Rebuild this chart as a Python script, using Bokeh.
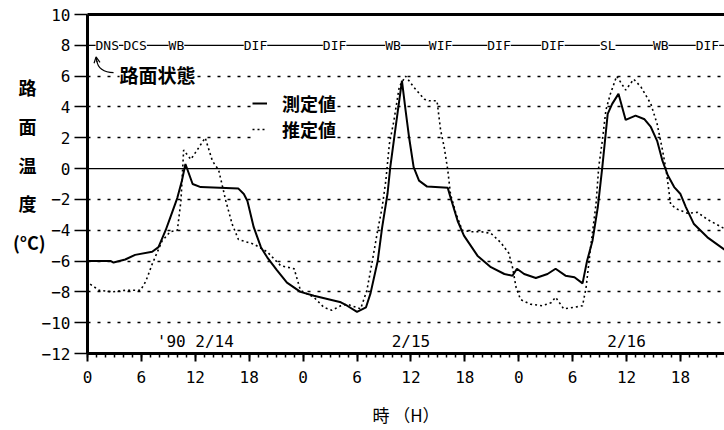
from bokeh.plotting import figure
from bokeh.models import (ColumnDataSource, FixedTicker, Span, LabelSet, Label,
                          LinearAxis, Legend, LegendItem, Arrow, OpenHead)
from bokeh.core.properties import value
from bokeh.embed import file_html
from bokeh.resources import INLINE

# ---- data (hours from 0:00 on 2/14, road-surface temperature in deg C) ----
hours_meas = [0, 2.6, 2.9, 4.2, 5.3, 7.2, 7.9, 8.7, 9.2, 10.0, 10.5, 10.9, 11.7, 12.6,
              16.8, 17.4, 17.8, 18.5, 19.3, 20.0, 21.1, 22.2, 23.7, 25.2, 26.7, 28.2,
              28.9, 30.0, 31.0, 31.5, 32.3, 32.8, 33.4, 33.7, 34.3, 34.8, 35.0, 35.4,
              35.8, 36.3, 36.9, 37.8, 40.1, 40.4, 41.2, 41.9, 43.4, 44.9, 46.4, 47.3,
              47.8, 48.6, 49.9, 51.2, 52.1, 53.2, 54.2, 55.1, 55.6, 56.2, 56.8, 57.3,
              57.9, 58.4, 59.1, 59.9, 61.0, 62.0, 62.7, 63.4, 64.0, 64.6, 65.3, 66.0,
              66.6, 67.5, 69.0, 70.9]
temp_meas = [-6.0, -6.0, -6.1, -5.9, -5.6, -5.4, -5.1, -4.0, -3.2, -1.9, -0.8, 0.3, -1.0, -1.2,
             -1.3, -1.65, -2.1, -3.8, -5.1, -5.76, -6.6, -7.4, -8.0, -8.25, -8.46, -8.68,
             -8.9, -9.3, -9.0, -8.1, -6.0, -3.8, -1.6, 0.1, 2.7, 4.85, 5.7, 3.8,
             2.0, 0.1, -0.78, -1.17, -1.25, -1.86, -3.4, -4.35, -5.65, -6.4, -6.84, -6.95,
             -6.5, -6.84, -7.1, -6.84, -6.5, -6.95, -7.05, -7.45, -6.0, -4.7, -2.5, 0.1,
             3.55, 4.2, 4.85, 3.16, 3.44, 3.2, 2.7, 1.8, 0.5, -0.45, -1.2, -1.65,
             -2.5, -3.6, -4.46, -5.26]

hours_est = [0.3, 1.3, 2.75, 4.2, 5.9, 6.5, 7.2, 8.3, 9.2, 10.0, 10.4, 10.7, 11.5, 12.2,
             13.1, 13.9, 14.6, 15.4, 16.1, 16.8, 18.5, 20.0, 21.5, 23.0, 23.7, 25.2,
             26.3, 27.2, 28.2, 28.9, 30.4, 31.1, 31.7, 32.3, 32.8, 33.2, 33.6, 34.1,
             34.7, 35.4, 36.3, 37.5, 38.0, 38.9, 39.3, 39.7, 40.1, 40.4, 41.0, 41.7,
             42.7, 43.8, 44.9, 46.0, 46.9, 47.3, 47.7, 48.2, 49.3, 50.6, 51.6, 52.1,
             53.0, 54.2, 55.1, 55.5, 56.0, 56.6, 56.9, 57.3, 57.7, 58.2, 58.9, 59.9,
             60.8, 61.6, 62.7, 63.4, 64.0, 64.4, 64.7, 64.9, 65.5, 66.8, 67.9, 69.0, 70.9]
temp_est = [-7.5, -7.9, -8.0, -7.9, -7.9, -7.3, -6.2, -4.7, -4.1, -4.0, -2.1, 1.2, 0.6, 1.2,
            2.0, 0.5, -0.1, -2.1, -3.6, -4.6, -4.9, -5.4, -6.3, -6.5, -7.9, -8.35,
            -9.0, -9.2, -8.9, -8.8, -9.1, -7.9, -6.0, -4.0, -2.5, -0.8, 1.6, 3.1,
            5.3, 6.0, 5.3, 4.5, 4.4, 4.4, 2.5, 1.4, -0.1, -1.65, -2.9, -4.0,
            -4.1, -4.1, -4.2, -4.8, -5.5, -6.4, -7.7, -8.5, -8.8, -8.9, -8.7, -8.35,
            -9.1, -9.0, -8.9, -7.7, -5.1, -2.3, 0.1, 1.8, 3.8, 4.85, 6.0, 5.1,
            5.8, 5.3, 4.2, 2.9, 1.2, -0.1, -1.4, -2.3, -2.6, -2.9, -2.84, -3.3, -3.9]

state_hours = [2.2, 5.3, 9.9, 18.7, 27.5, 34.0, 39.3, 45.8, 51.8, 57.9, 63.8, 69.0]
state_names = ["DNS", "DCS", "WB", "DIF", "DIF", "WB", "WIF", "DIF", "DIF", "SL", "WB", "DIF"]
state_level = 8

x_ticks = [0, 6, 12, 18, 24, 30, 36, 42, 48, 54, 60, 66]
x_tick_labels = ["0", "6", "12", "18", "0", "6", "12", "18", "0", "6", "12", "18"]
y_ticks = [-12, -10, -8, -6, -4, -2, 0, 2, 4, 6, 8, 10]
grid_levels = [-10, -8, -6, -4, -2, 2, 4, 6]

date_hours = [12, 36, 60]
date_labels = ["'90 2/14", "2/15", "2/16"]

y_title = "路\u2002\n面\u2002\n温\u2002\n度\u2002\n(°C)\n\u3000"
x_title = "時 （H）"

X_END = 70.9
MONO = "DejaVu Sans Mono"
CJK = "Noto Sans CJK JP"

p = figure(width=724, height=430, x_range=(0, X_END), y_range=(-12, 10),
           output_backend="svg", toolbar_location=None,
           min_border_left=87, min_border_right=0, min_border_top=14, min_border_bottom=77,
           background_fill_color="white", border_fill_color="white",
           outline_line_color=None)

# axes
xa = p.xaxis[0]
xa.ticker = FixedTicker(ticks=x_ticks, minor_ticks=list(range(0, 71)))
xa.major_label_overrides = {t: l for t, l in zip(x_ticks, x_tick_labels)}
xa.axis_line_width = 3
xa.axis_line_color = "black"
xa.major_tick_out = 8
xa.major_tick_in = 0
xa.major_tick_line_width = 2
xa.major_tick_line_color = "black"
xa.minor_tick_out = 4
xa.minor_tick_in = 0
xa.minor_tick_line_width = 1.5
xa.minor_tick_line_color = "black"
xa.major_label_standoff = 9
xa.major_label_text_font = MONO
xa.major_label_text_font_size = "16px"
xa.major_label_text_color = "black"
xa.axis_label = x_title
xa.axis_label_standoff = 16
xa.axis_label_text_font = CJK
xa.axis_label_text_font_size = "17px"
xa.axis_label_text_font_style = "normal"
xa.axis_label_text_color = "black"

ya = p.yaxis[0]
ya.ticker = FixedTicker(ticks=y_ticks)
ya.axis_line_width = 3
ya.axis_line_color = "black"
ya.major_tick_out = 13
ya.major_tick_in = 0
ya.major_tick_line_width = 1.5
ya.major_tick_line_color = "black"
ya.minor_tick_out = 0
ya.minor_tick_in = 0
ya.major_label_standoff = 4
ya.major_label_text_font = MONO
ya.major_label_text_font_size = "16px"
ya.major_label_text_color = "black"
ya.axis_label = y_title
ya.axis_label_orientation = "horizontal"
ya.axis_label_standoff = -7
ya.axis_label_text_font = CJK
ya.axis_label_text_font_size = "18px"
ya.axis_label_text_font_style = "bold"
ya.axis_label_text_line_height = 1.49
ya.axis_label_text_align = "center"
ya.axis_label_text_color = "black"

top = LinearAxis(ticker=FixedTicker(ticks=[]), axis_line_width=3, axis_line_color="black",
                 major_tick_out=0, minor_tick_out=0, major_label_text_font_size="0px")
p.add_layout(top, "above")

# grid
p.xgrid.visible = False
p.ygrid.ticker = FixedTicker(ticks=grid_levels)
p.ygrid.grid_line_color = "black"
p.ygrid.grid_line_dash = "3 7"
p.ygrid.grid_line_width = 1.5

p.add_layout(Span(location=0, dimension="width", line_color="black", line_width=1.2,
                  level="underlay"))

# curves
r_meas = p.line(hours_meas, temp_meas, line_color="black", line_width=2)
r_est = p.line(hours_est, temp_est, line_color="black", line_width=1.6, line_dash="2 3")

# road state row
p.add_layout(Span(location=state_level, dimension="width", line_color="black", line_width=1.2))
state_src = ColumnDataSource(dict(x=state_hours, y=[state_level] * len(state_hours),
                                  t=state_names))
p.add_layout(LabelSet(x="x", y="y", text="t", source=state_src, text_align="center",
                      text_baseline="middle", text_font=value(MONO),
                      text_font_size=value("13px"), text_color="black",
                      background_fill_color="white", background_fill_alpha=1.0))

# "路面状態" annotation with arrow
p.add_layout(Label(x=7.8, y=6.1, text="路面状態", text_align="center", text_baseline="middle",
                   text_font=CJK, text_font_size="19px", text_font_style="bold",
                   text_color="black", background_fill_color="white",
                   background_fill_alpha=1.0))
p.bezier(x0=[2.9], y0=[6.23], x1=[1.05], y1=[7.0], cx0=[1.8], cy0=[6.23], cx1=[1.1],
         cy1=[6.55], line_color="black", line_width=1.2)
p.add_layout(Arrow(end=OpenHead(size=6, line_width=1.2, line_color="black"),
                   x_start=1.05, y_start=6.9, x_end=0.95, y_end=7.25,
                   line_color="black", line_width=1.2))

# date labels
date_src = ColumnDataSource(dict(x=date_hours, y=[-11.2] * 3, t=date_labels))
p.add_layout(LabelSet(x="x", y="y", text="t", source=date_src, text_align="center",
                      text_baseline="middle", text_font=value(MONO),
                      text_font_size=value("16px"), text_color="black"))

# legend
legend = Legend(items=[LegendItem(label="測定値", renderers=[r_meas]),
                       LegendItem(label="推定値", renderers=[r_est])],
                location=(165, 211), orientation="vertical", padding=6, spacing=0,
                margin=0, label_height=20, glyph_height=20, glyph_width=15,
                label_standoff=15, label_text_font=CJK, label_text_font_size="18px",
                label_text_font_style="bold", label_text_color="black",
                border_line_color=None, background_fill_color="white",
                background_fill_alpha=1.0)
p.add_layout(legend)

open("out.html", "w").write(file_html(p, INLINE))
